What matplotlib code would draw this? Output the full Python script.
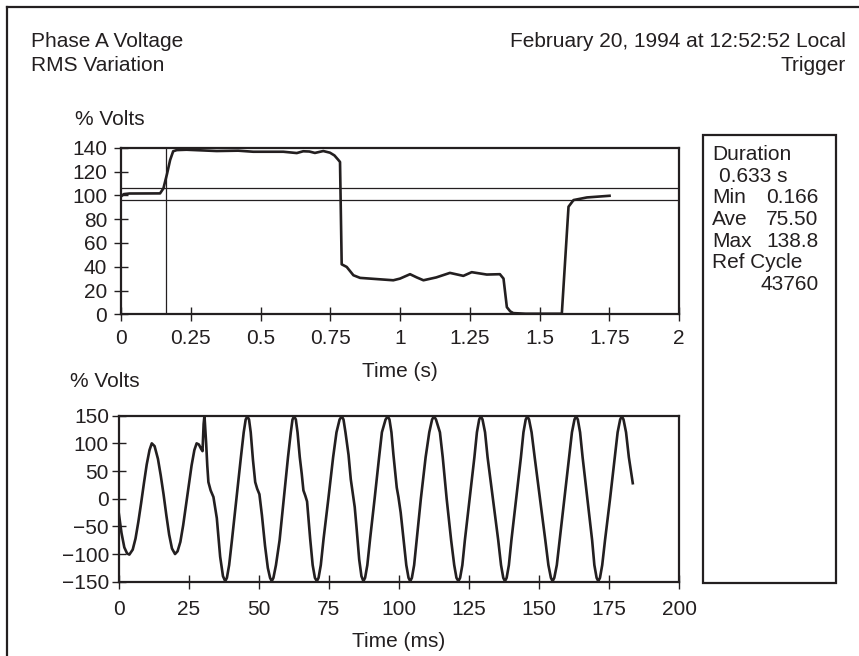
import matplotlib
matplotlib.use('Agg')
import matplotlib.pyplot as plt
from matplotlib.patches import Rectangle
from matplotlib.lines import Line2D

W, H = 859, 656
plt.rcParams['font.family'] = ['Liberation Sans', 'DejaVu Sans']
FS = 15
INK = '#231f20'

# ---------------- data ----------------
title_left = ['Phase A Voltage', 'RMS Variation']
title_right = ['February 20, 1994 at 12:52:52 Local', 'Trigger']

rms_t = [0, 0.01, 0.03, 0.14, 0.152, 0.165, 0.176, 0.187, 0.2, 0.235,
         0.343, 0.42, 0.474, 0.582, 0.63, 0.653, 0.675, 0.695, 0.725, 0.749,
         0.765, 0.778, 0.785, 0.791, 0.809, 0.833, 0.857, 0.94, 0.976, 1.0,
         1.036, 1.06, 1.084, 1.13, 1.179, 1.227, 1.257, 1.311, 1.358, 1.371,
         1.383, 1.395, 1.406, 1.45, 1.58, 1.604, 1.622, 1.67, 1.751]
rms_v = [99, 101, 101.5, 101.6, 105.8, 118, 129.6, 137, 138, 138.3,
         137.2, 137.5, 136.6, 136.6, 135.5, 137, 136.8, 135.6, 137.2, 135.8,
         133.5, 130, 128, 42, 39.8, 32.8, 30.6, 29.2, 28.6, 30,
         33.7, 31, 28.6, 31, 34.8, 32.3, 35.4, 33.4, 33.7, 30,
         6, 2.5, 1.0, 0.5, 0.5, 90.4, 96, 98.2, 99.6]
ref_levels = [106, 96]
trigger_t = 0.16

top_xticks = [0, 0.25, 0.5, 0.75, 1, 1.25, 1.5, 1.75, 2]
top_xticklabels = ['0', '0.25', '0.5', '0.75', '1', '1.25', '1.5', '1.75', '2']
top_yticks = [0, 20, 40, 60, 80, 100, 120, 140]

wave_t = [0, 1, 2, 3, 3.8, 5, 6, 7, 8, 9,
          10, 11, 11.8, 12.8, 14, 15, 16, 17, 18, 19,
          20.1, 21, 22, 23, 24, 25, 26, 27, 27.8, 28.6,
          29.4, 29.9, 30.3, 30.6, 31.2, 31.6, 32.0, 32.8, 33.8, 35.0,
          36.2, 37.2, 38.0,
          38.6, 39.4, 40.4, 42.0, 43.6, 44.6, 45.3, 45.9,
          46.5, 47.1, 47.9, 48.7, 49.4, 50.2, 51.1, 52.2, 53.2, 54.0, 54.6,
          55.2, 56.1, 57.4, 58.9, 60.4, 61.4, 62.0, 62.6,
          63.2, 63.8, 64.6, 65.3, 65.9, 66.6, 67.2, 68.3, 69.2, 70.0, 70.7,
          71.3, 72.1, 73.1, 74.8, 76.5, 77.7, 78.8, 79.6,
          80.2, 80.9, 82.0, 82.8, 83.5, 84.2, 84.9, 85.8, 86.6, 87.3,
          87.9, 88.7, 89.7, 91.3, 92.9, 93.9, 95.2, 96.0,
          96.6, 97.3, 98.0, 98.6, 99.2, 99.8, 100.6, 101.6, 102.6, 103.4, 104.0,
          104.6, 105.4, 106.3, 107.8, 109.5, 110.8, 111.8, 112.5,
          113.2, 114.6, 115.6, 117.0, 118.6, 119.7, 120.5, 121.2,
          121.8, 122.6, 123.5, 125.2, 126.9, 127.8, 128.6, 129.2,
          129.8, 130.7, 131.6, 133.5, 135.4, 136.4, 137.2, 137.8,
          138.4, 139.2, 140.1, 141.8, 143.5, 144.4, 145.2, 145.8,
          146.4, 147.3, 148.4, 150.3, 152.2, 153.3, 154.2, 154.8,
          155.4, 156.3, 157.3, 159.0, 160.7, 161.7, 162.6, 163.2,
          163.8, 164.6, 165.5, 167.2, 168.9, 169.7, 170.5, 171.1,
          171.7, 172.5, 173.5, 175.3, 177.0, 178.0, 178.9, 179.5,
          180.1, 181.0, 182.0, 183.4]
wave_v = [-25, -62, -88, -99, -101, -92, -72, -42, -8, 28,
          62, 88, 100, 95, 72, 42, 8, -30, -65, -90,
          -100, -95, -78, -48, -12, 25, 60, 88, 100, 98,
          90, 86, 135, 150, 100, 60, 30, 15, 3, -35,
          -105, -140, -149,
          -143, -120, -75, 0, 75, 120, 143, 149,
          143, 120, 70, 30, 18, 8, -30, -85, -125, -143, -149,
          -143, -120, -75, 0, 75, 120, 143, 149,
          143, 120, 75, 45, 15, 5, -5, -72, -120, -143, -149,
          -143, -120, -72, 0, 75, 120, 143, 149,
          143, 120, 79, 35, 10, -15, -55, -110, -140, -149,
          -143, -120, -72, 0, 75, 120, 143, 149,
          143, 120, 80, 49, 20, 3, -25, -72, -120, -143, -149,
          -143, -120, -75, 0, 75, 120, 143, 149,
          143, 120, 75, 0, -75, -120, -143, -149,
          -143, -120, -75, 0, 75, 120, 143, 149,
          143, 120, 75, 0, -75, -120, -143, -149,
          -143, -120, -75, 0, 75, 120, 143, 149,
          143, 120, 75, 0, -75, -120, -143, -149,
          -143, -120, -75, 0, 75, 120, 143, 149,
          143, 120, 75, 0, -75, -120, -143, -149,
          -143, -120, -75, 0, 75, 120, 143, 149,
          143, 120, 75, 28]

bot_xticks = [0, 25, 50, 75, 100, 125, 150, 175, 200]
bot_yticks = [-150, -100, -50, 0, 50, 100, 150]
bot_yticklabels = ['\u2212150', '\u2212100', '\u221250', '0', '50', '100', '150']

duration_label = 'Duration'
duration_value = '0.633 s'
stat_names = ['Min', 'Ave', 'Max']
stat_values = ['0.166', '75.50', '138.8']
refcycle_label = 'Ref Cycle'
refcycle_value = '43760'

assert len(rms_t) == len(rms_v)
assert len(wave_t) == len(wave_v)


def fx(x):
    return x / W


def fy(y):
    return 1 - y / H


fig = plt.figure(figsize=(W / 100, H / 100), dpi=100)

# outer frame (left and top edges visible)
fig.add_artist(Line2D([fx(7), fx(7)], [fy(7), fy(H + 5)], color=INK, lw=1.6,
                      transform=fig.transFigure))
fig.add_artist(Line2D([fx(7), fx(W + 5)], [fy(7), fy(7)], color=INK, lw=1.6,
                      transform=fig.transFigure))

# headers
for i, s in enumerate(title_left):
    fig.text(fx(31), fy(46.7 + 24 * i), s, fontsize=FS, color=INK, va='baseline', ha='left')
for i, s in enumerate(title_right):
    fig.text(fx(846), fy(46.7 + 24 * i), s, fontsize=FS, color=INK, va='baseline', ha='right')


def style_axes(ax, xpad, ypad):
    for sp in ax.spines.values():
        sp.set_linewidth(1.6)
        sp.set_color(INK)
    ax.tick_params(direction='inout', length=10, width=1.0, colors=INK, labelsize=FS)
    ax.tick_params(axis='x', pad=xpad)
    ax.tick_params(axis='y', pad=ypad)
    ax.set_facecolor('none')


# ---------------- top axes ----------------
ax1 = fig.add_axes([fx(121), fy(314.3), (679 - 121) / W, (314.3 - 147.7) / H])
style_axes(ax1, 5.5, 5.0)
ax1.set_xlim(0, 2)
ax1.set_ylim(0, 140)
ax1.set_xticks(top_xticks)
ax1.set_xticklabels(top_xticklabels)
ax1.set_yticks(top_yticks)
for lv in ref_levels:
    ax1.axhline(lv, color=INK, lw=0.9)
ax1.axvline(trigger_t, color=INK, lw=0.9)
ax1.plot(rms_t, rms_v, color=INK, lw=1.9, solid_joinstyle='round')
ax1.set_xlabel('Time (s)', fontsize=FS, color=INK, labelpad=10)
fig.text(fx(75), fy(125), '% Volts', fontsize=FS, color=INK, va='baseline', ha='left')

# ---------------- bottom axes ----------------
ax2 = fig.add_axes([fx(118.7), fy(581.7), (679.3 - 118.7) / W, (581.7 - 415.7) / H])
style_axes(ax2, 8.5, 2.0)
ax2.set_xlim(0, 200)
ax2.set_ylim(-150, 150)
ax2.set_xticks(bot_xticks)
ax2.set_yticks(bot_yticks)
ax2.set_yticklabels(bot_yticklabels)
ax2.plot(wave_t, wave_v, color=INK, lw=1.9, solid_joinstyle='round')
ax2.set_xlabel('Time (ms)', fontsize=FS, color=INK, labelpad=9)
fig.text(fx(70), fy(386.7), '% Volts', fontsize=FS, color=INK, va='baseline', ha='left')

# ---------------- stats box ----------------
fig.add_artist(Rectangle((fx(702.5), fy(582.7)), (835.7 - 702.5) / W, (582.7 - 135) / H,
                         fill=False, edgecolor=INK, lw=1.6, transform=fig.transFigure))
base = 160
step = 21.7
fig.text(fx(712), fy(base), duration_label, fontsize=FS, color=INK, va='baseline')
fig.text(fx(719), fy(base + step), duration_value, fontsize=FS, color=INK, va='baseline')
for i, (n, v) in enumerate(zip(stat_names, stat_values)):
    y = base + step * (2 + i)
    fig.text(fx(712), fy(y), n, fontsize=FS, color=INK, va='baseline')
    fig.text(fx(818.5), fy(y), v, fontsize=FS, color=INK, va='baseline', ha='right')
fig.text(fx(712), fy(base + step * 5), refcycle_label, fontsize=FS, color=INK, va='baseline')
fig.text(fx(818.5), fy(base + step * 6), refcycle_value, fontsize=FS, color=INK, va='baseline', ha='right')

fig.savefig('out.png', dpi=100, facecolor='white')
